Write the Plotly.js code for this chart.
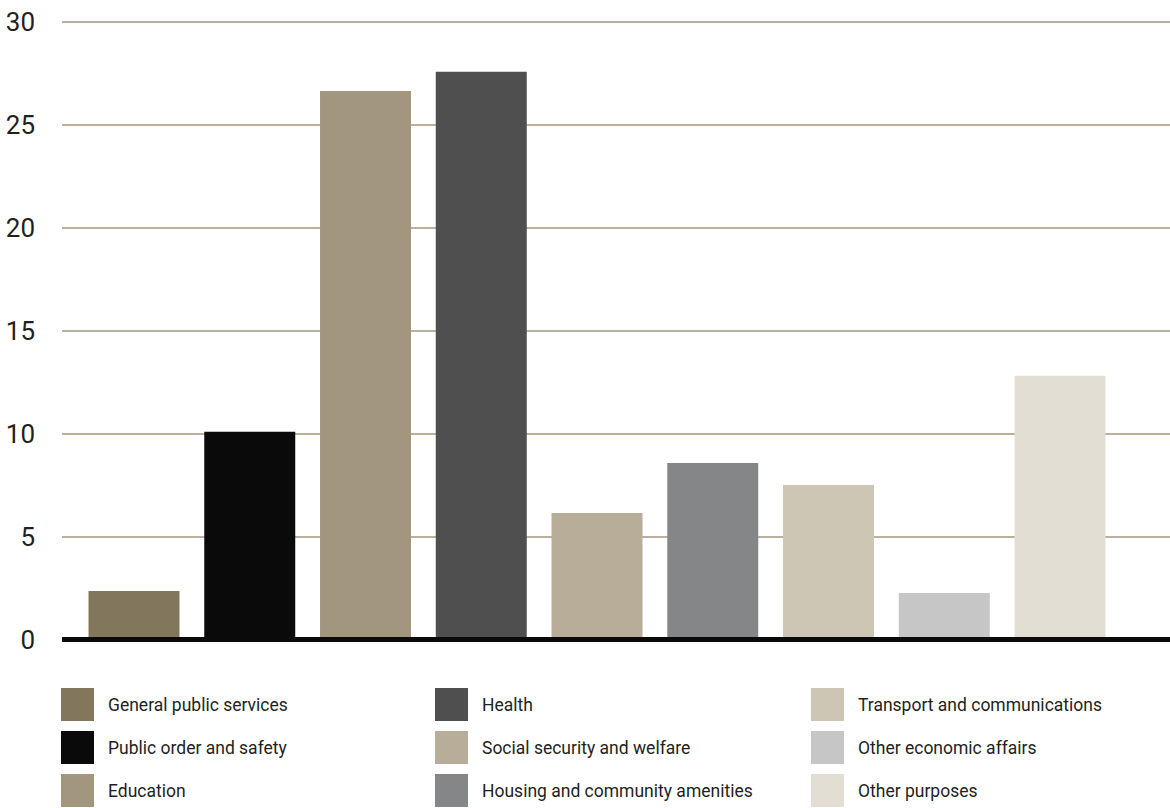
<!DOCTYPE html>
<html>
<head>
<meta charset="utf-8">
<script src="https://cdn.plot.ly/plotly-3.0.1.min.js"></script>
<style>
  html, body { margin: 0; padding: 0; background: #ffffff; }
  #chart { width: 1170px; height: 808px; }
</style>
</head>
<body>
<div id="chart"></div>
<script>
// ---- data ----
const categories = [
  "General public services",
  "Public order and safety",
  "Education",
  "Health",
  "Social security and welfare",
  "Housing and community amenities",
  "Transport and communications",
  "Other economic affairs",
  "Other purposes"
];
const values = [2.36, 10.09, 26.66, 27.59, 6.15, 8.58, 7.51, 2.26, 12.82];
const colors = [
  "#82775C", "#0A0A0A", "#A3967E", "#4F4F4F", "#B8AD98",
  "#858688", "#CDC6B4", "#C6C6C6", "#E2DED3"
];
const yTicks = [0, 5, 10, 15, 20, 25, 30];

// ---- layout constants ----
const W = 1170, H = 808;
const M = { l: 62, r: 0, t: 12, b: 148 };
const plotW = W - M.l - M.r;
const plotH = H - M.t - M.b;
const FONT = 'Roboto, "Liberation Sans", sans-serif';
const TEXT = "#231F20";

function pxToPaperX(px) { return (px - M.l) / plotW; }
function pxToPaperY(py) { return (H - M.b - py) / plotH; }

const trace = {
  type: "bar",
  x: categories,
  y: values,
  marker: { color: colors, line: { width: 0 } },
  hoverinfo: "x+y",
  showlegend: false
};

// custom legend: 3 columns x 3 rows, column-major
const shapes = [];
const annotations = [];
const colX = [61, 435, 811];
const rowY = [688, 731, 774];
const sw = 33;
categories.forEach((c, i) => {
  const col = Math.floor(i / 3), row = i % 3;
  const x0 = colX[col], y0 = rowY[row];
  shapes.push({
    type: "rect", xref: "paper", yref: "paper",
    x0: pxToPaperX(x0), x1: pxToPaperX(x0 + sw),
    y0: pxToPaperY(y0 + sw), y1: pxToPaperY(y0),
    fillcolor: colors[i], line: { width: 0 }, layer: "above"
  });
  annotations.push({
    xref: "paper", yref: "paper",
    x: pxToPaperX(x0 + 45), y: pxToPaperY(y0 + sw / 2),
    xanchor: "left", yanchor: "middle",
    text: c, showarrow: false,
    font: { family: FONT, size: 17.5, color: TEXT }
  });
});

// baseline at zero
shapes.push({
  type: "line", xref: "paper", yref: "y",
  x0: 0, x1: 1, y0: 0, y1: 0,
  line: { color: "#0A0A0A", width: 5 }, layer: "above"
});

const layout = {
  width: W, height: H,
  margin: M,
  paper_bgcolor: "#ffffff",
  plot_bgcolor: "#ffffff",
  font: { family: FONT, color: TEXT },
  bargap: 0.214,
  showlegend: false,
  xaxis: {
    type: "category",
    range: [-0.622, 8.95],
    showticklabels: false,
    showgrid: false,
    zeroline: false,
    showline: false,
    ticks: ""
  },
  yaxis: {
    range: [-1, 30.5],
    tickvals: yTicks,
    ticktext: yTicks.map(String),
    showgrid: true,
    gridcolor: "#BBB09F",
    gridwidth: 2,
    zeroline: false,
    showline: false,
    ticks: "",
    ticklabelstandoff: 26,
    tickfont: { family: FONT, size: 26, color: TEXT }
  },
  shapes: shapes,
  annotations: annotations
};

Plotly.newPlot("chart", [trace], layout, { displayModeBar: false, staticPlot: true });
</script>
</body>
</html>
